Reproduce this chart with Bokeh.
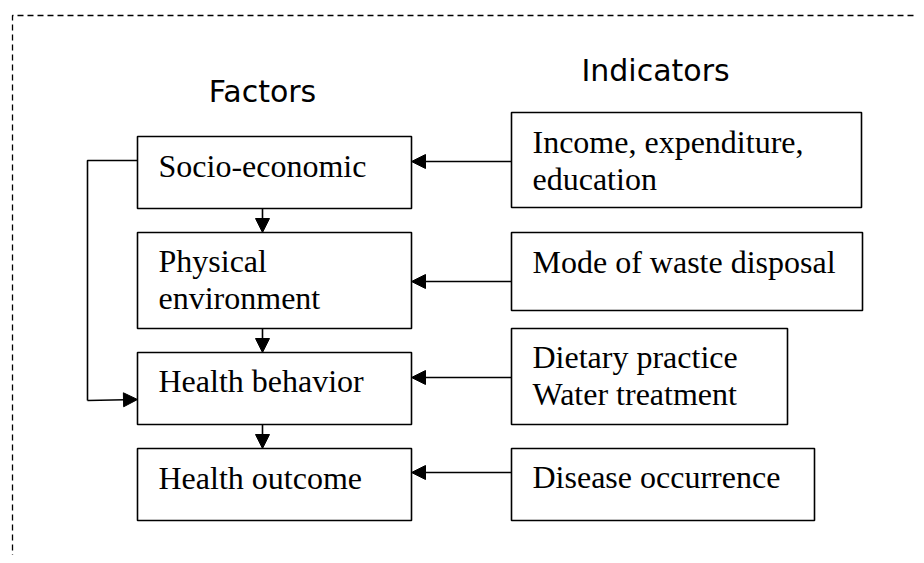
from bokeh.plotting import figure
from bokeh.models import Range1d, Arrow, NormalHead
from bokeh.core.properties import value
from bokeh.embed import file_html
from bokeh.resources import INLINE

# ---- content ----
headers = ["Factors", "Indicators"]
factor_lines = [["Socio-economic"], ["Physical", "environment"],
                ["Health behavior"], ["Health outcome"]]
indicator_lines = [["Income, expenditure,", "education"], ["Mode of waste disposal"],
                   ["Dietary practice", "Water treatment"], ["Disease occurrence"]]

# ---- layout (page pixel coordinates) ----
W, H = 916, 555
f_left, f_right = 137, 411
f_tops = [136, 232, 352, 448]
f_bots = [208, 328, 424, 520]
f_base = [177, 272, 392, 489]
i_left = 511
i_rights = [861, 862, 787, 814]
i_tops = [112, 232, 328, 448]
i_bots = [207, 310, 424, 520]
i_base = [153, 273, 368, 488]
arrow_y = [161, 281, 377, 472]
line_step = 37.5
base_fix = -12  # renderer places alphabetic baseline ~12px lower
head_base = [103, 82]

p = figure(width=W, height=H, x_range=Range1d(0, W), y_range=Range1d(H, 0),
           output_backend="svg", toolbar_location=None, min_border=0,
           x_axis_location=None, y_axis_location=None, tools="")
p.grid.visible = False
p.outline_line_color = None
p.background_fill_color = "white"

# dashed border
p.line([12, 12, 940], [580, 15, 15], line_color="black", line_width=1.3, line_dash="6 4")

# boxes
p.quad(left=[f_left] * 4, right=[f_right] * 4, top=f_tops, bottom=f_bots,
       fill_color="white", line_color="black", line_width=1.6)
p.quad(left=[i_left] * 4, right=i_rights, top=i_tops, bottom=i_bots,
       fill_color="white", line_color="black", line_width=1.6)

serif = value("Liberation Serif")
sans = value("DejaVu Sans")

tx, ty, tt = [], [], []
for lines, b in zip(factor_lines, f_base):
    for k, s in enumerate(lines):
        tx.append(158); ty.append(b + k * line_step + base_fix); tt.append(s)
for lines, b in zip(indicator_lines, i_base):
    for k, s in enumerate(lines):
        tx.append(532); ty.append(b + k * line_step + base_fix); tt.append(s)
p.text(x=tx, y=ty, text=tt, text_font=serif, text_font_size="32px",
       text_align="left", text_baseline="alphabetic", text_color="black")

p.text(x=[262, 655], y=[head_base[0] + base_fix, head_base[1] + base_fix], text=headers,
       text_font=sans, text_font_size="30px", text_align="center",
       text_baseline="alphabetic", text_color="black")

def head():
    return NormalHead(size=14, fill_color="black", line_color="black", line_width=1)

# horizontal arrows indicator -> factor
for y in arrow_y:
    p.add_layout(Arrow(end=head(), x_start=i_left, y_start=y, x_end=f_right, y_end=y,
                       line_width=1.6, line_color="black"))

# vertical arrows between factors
for i in range(3):
    p.add_layout(Arrow(end=head(), x_start=262, y_start=f_bots[i], x_end=262, y_end=f_tops[i + 1],
                       line_width=1.6, line_color="black"))

# side connector socio-economic -> health behavior
p.line([f_left, 87, 87], [160, 160, 400], line_color="black", line_width=1.6)
p.add_layout(Arrow(end=head(), x_start=87, y_start=400, x_end=f_left, y_end=399,
                   line_width=1.6, line_color="black"))

open("out.html", "w").write(file_html(p, INLINE))
